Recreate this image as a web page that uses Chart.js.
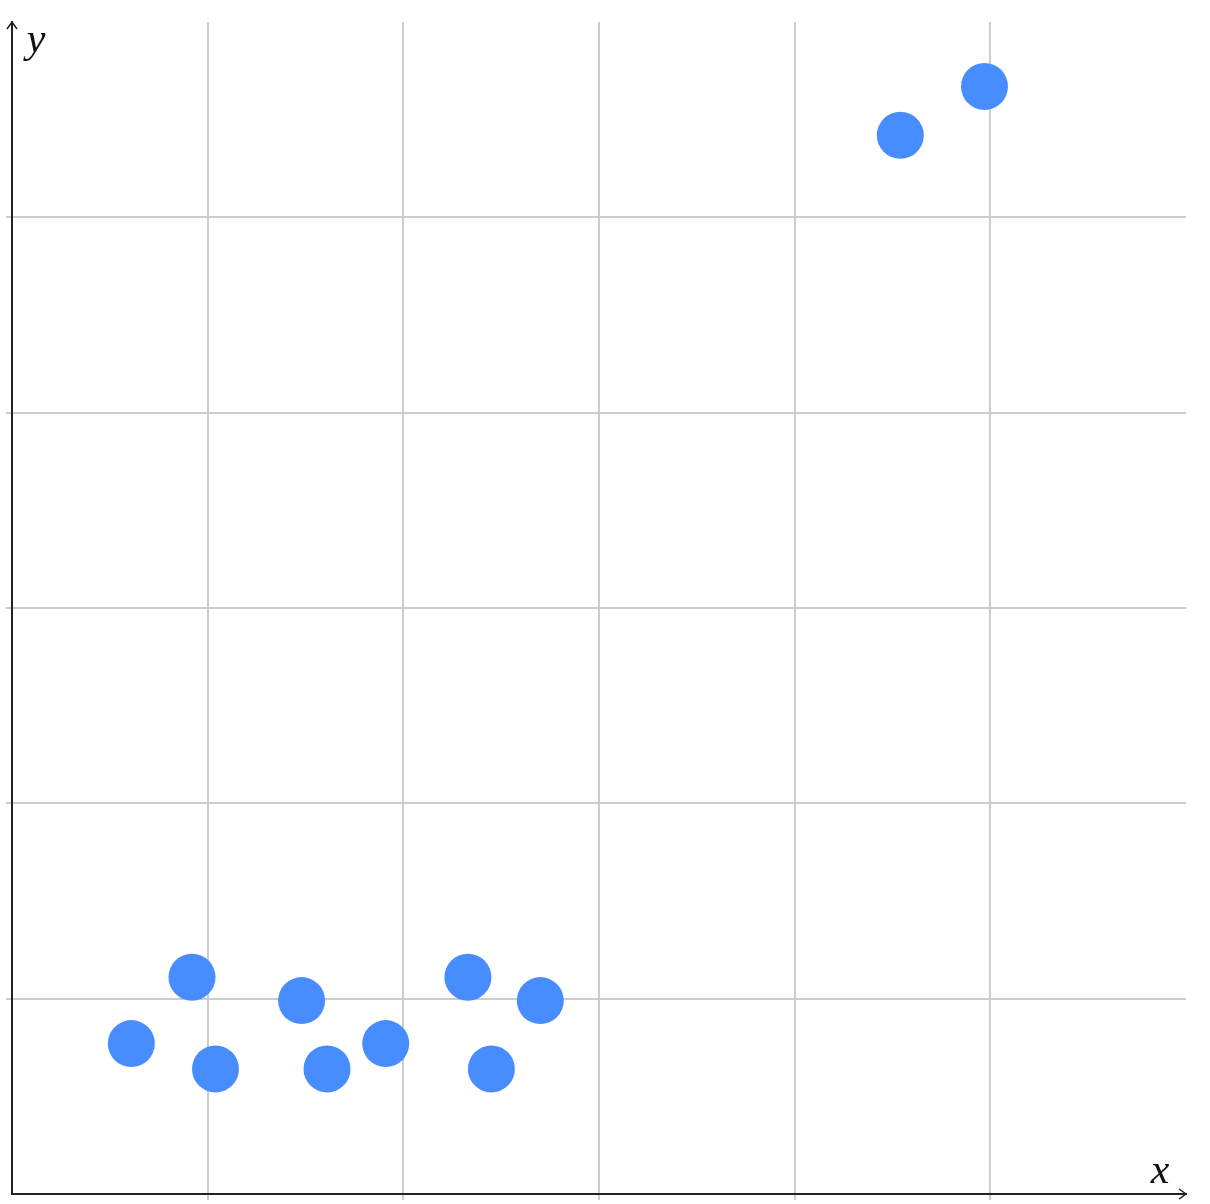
<!DOCTYPE html>
<html>
<head>
<meta charset="utf-8">
<script src="https://cdn.jsdelivr.net/npm/chart.js@4/dist/chart.umd.min.js"></script>
<style>
  html, body { margin: 0; padding: 0; background: #fff; }
  #wrap { width: 1210px; height: 1204px; }
</style>
</head>
<body>
<div id="wrap"><canvas id="scatterChart" width="1210" height="1204"></canvas></div>
<script>
// data
var xValues = [0.61, 0.92, 1.04, 1.48, 1.61, 1.91, 2.33, 2.45, 2.70, 4.54, 4.97];
var yValues = [0.77, 1.11, 0.64, 0.99, 0.64, 0.77, 1.11, 0.64, 0.99, 5.42, 5.67];
var axisMin = 0;
var axisMax = 6;
var axisLabels = ['x', 'y'];

var points = [];
for (var i = 0; i < xValues.length; i++) {
    points.push({ x: xValues[i], y: yValues[i] });
}

function gridColor(ctx) {
    var v = ctx.tick ? ctx.tick.value : null;
    if (v === axisMin || v === axisMax) return 'rgba(0,0,0,0)';
    return '#cccccc';
}

// arrows and axis letters
var axisDecor = {
    id: 'axisDecor',
    afterDraw: function (chart) {
        var c = chart.ctx;
        var xs = chart.scales.x, ys = chart.scales.y;
        var x0 = xs.getPixelForValue(axisMin), y0 = ys.getPixelForValue(axisMin);
        var xEnd = xs.getPixelForValue(axisMax), yEnd = ys.getPixelForValue(axisMax);
        c.save();
        c.strokeStyle = '#222';
        c.lineWidth = 1.5;
        c.beginPath();
        c.moveTo(x0 - 5, yEnd + 7); c.lineTo(x0, yEnd); c.lineTo(x0 + 5, yEnd + 7);
        c.moveTo(xEnd - 7, y0 - 5); c.lineTo(xEnd, y0); c.lineTo(xEnd - 7, y0 + 5);
        c.stroke();
        c.fillStyle = '#111';
        c.font = 'italic 42px "Liberation Serif", "DejaVu Serif", serif';
        c.textBaseline = 'alphabetic';
        c.textAlign = 'center';
        c.fillText(axisLabels[0], xEnd - 26, y0 - 11);
        c.fillText(axisLabels[1], x0 + 24, yEnd + 30);
        c.restore();
    }
};

var scatterCanvas = document.getElementById('scatterChart').getContext('2d');

var scatterChart = new Chart(scatterCanvas, {
    type: 'scatter',
    data: {
        datasets: [{
            label: 'pontos',
            data: points,
            backgroundColor: '#478dff',
            borderColor: '#478dff',
            borderWidth: 0,
            pointRadius: 23.5,
            pointHoverRadius: 23.5
        }]
    },
    options: {
        responsive: false,
        animation: false,
        layout: { autoPadding: false, padding: { left: 6, right: 24, top: 22, bottom: 4 } },
        plugins: {
            legend: { display: false },
            tooltip: { enabled: false }
        },
        scales: {
            x: {
                type: 'linear',
                min: axisMin,
                max: axisMax,
                ticks: { display: false, stepSize: 1 },
                grid: { color: gridColor, lineWidth: 2, drawTicks: true, tickLength: 6 },
                border: { display: true, color: '#222', width: 2 }
            },
            y: {
                type: 'linear',
                min: axisMin,
                max: axisMax,
                ticks: { display: false, stepSize: 1 },
                grid: { color: gridColor, lineWidth: 2, drawTicks: true, tickLength: 6 },
                border: { display: true, color: '#222', width: 2 }
            }
        }
    },
    plugins: [axisDecor]
});
</script>
</body>
</html>
